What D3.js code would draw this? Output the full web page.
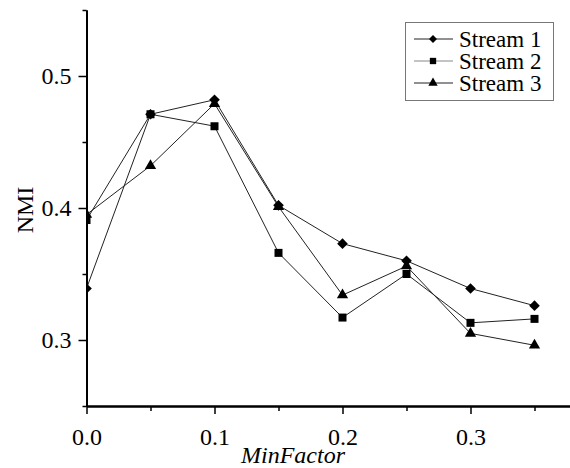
<!DOCTYPE html>
<html lang="en">
  <head>
    <meta charset="utf-8" />
    <title>NMI vs MinFactor</title>
    <script src="https://d3js.org/d3.v7.min.js"></script>
    <style>
      body { margin: 0; background: #fff; }
      svg text { font-family: "Liberation Serif", "Times New Roman", serif; }
    </style>
  </head>
  <body>
    <div id="chart"></div>
    <script>
      // values
      const minFactor = [0, 0.05, 0.1, 0.15, 0.2, 0.25, 0.3, 0.35];
      const stream1 = [0.339, 0.471, 0.482, 0.402, 0.373, 0.360, 0.339, 0.326];
      const stream2 = [0.391, 0.471, 0.462, 0.366, 0.317, 0.350, 0.313, 0.316];
      const stream3 = [0.395, 0.432, 0.479, 0.401, 0.334, 0.356, 0.305, 0.296];
      const seriesNames = ["Stream 1", "Stream 2", "Stream 3"];
      const xTicks = [0, 0.1, 0.2, 0.3];
      const xMinor = [0.05, 0.15, 0.25, 0.35];
      const yTicks = [0.3, 0.4, 0.5];
      const yMinor = [0.25, 0.35, 0.45, 0.55];

      const width = 570, height = 468;
      const padLeft = 86.5, padRight = 570, padTop = 10, padBottom = 406;

      const x = d3.scaleLinear()
        .domain([0, (padRight - padLeft) / 1280])
        .range([padLeft, padRight]);
      const y = d3.scaleLinear()
        .domain([0.25, 0.55])
        .range([padBottom, padTop]);

      const svg = d3.select("#chart").append("svg")
        .attr("width", width)
        .attr("height", height);

      svg.append("defs").append("clipPath")
        .attr("id", "plot-clip")
        .append("rect")
        .attr("x", padLeft + 1).attr("y", 0)
        .attr("width", padRight - padLeft).attr("height", padBottom);

      // markers
      const shapes = [d3.symbolDiamond2, d3.symbolSquare, d3.symbolTriangle];
      const sizes = [72, 64, 55];
      const legendSizes = [40, 40, 38];

      const series = [stream1, stream2, stream3].map((vals, i) => ({
        name: seriesNames[i],
        points: vals.map((v, j) => [minFactor[j], v]),
        shape: shapes[i]
      }));

      const line = d3.line().x(d => x(d[0])).y(d => y(d[1]));
      const plot = svg.append("g").attr("clip-path", "url(#plot-clip)");

      series.forEach((s, i) => {
        plot.append("path")
          .datum(s.points)
          .attr("d", line)
          .attr("fill", "none")
          .attr("stroke", "#222")
          .attr("stroke-width", 1);
      });
      series.forEach((s, i) => {
        plot.selectAll(".m" + i)
          .data(s.points)
          .enter()
          .append("path")
          .attr("class", "m" + i)
          .attr("transform", d => `translate(${x(d[0])},${y(d[1])})`)
          .attr("d", d3.symbol().type(s.shape).size(sizes[i]))
          .attr("fill", "#000");
      });

      // axes
      const styleAxis = (g) => {
        g.select(".domain").attr("stroke", "#000").attr("stroke-width", 2);
        g.selectAll(".tick line").attr("stroke", "#000").attr("stroke-width", 1.5);
        g.selectAll("text").attr("fill", "#000").style("font-size", "24px")
          .style("font-family", '"Liberation Serif", serif');
      };

      svg.append("g")
        .attr("transform", `translate(0,${padBottom})`)
        .call(d3.axisBottom(x).tickValues(xMinor).tickSize(5).tickSizeOuter(0).tickFormat(""))
        .call(styleAxis);
      svg.append("g")
        .attr("transform", `translate(0,${padBottom})`)
        .call(d3.axisBottom(x).tickValues(xTicks).tickSize(8).tickSizeOuter(0)
          .tickPadding(14).tickFormat(d3.format(".1f")))
        .call(styleAxis);

      svg.append("g")
        .attr("transform", `translate(${padLeft},0)`)
        .call(d3.axisLeft(y).tickValues(yMinor).tickSize(4).tickSizeOuter(0).tickFormat(""))
        .call(styleAxis);
      svg.append("g")
        .attr("transform", `translate(${padLeft},0)`)
        .call(d3.axisLeft(y).tickValues(yTicks).tickSize(8).tickSizeOuter(0)
          .tickPadding(7).tickFormat(d3.format(".1f")))
        .call(styleAxis);

      // axis titles
      svg.append("text")
        .attr("x", 293).attr("y", 463)
        .attr("text-anchor", "middle")
        .style("font-size", "24px")
        .style("font-style", "italic")
        .text("MinFactor");

      svg.append("text")
        .attr("transform", "translate(33,210) rotate(-90)")
        .attr("text-anchor", "middle")
        .style("font-size", "24px")
        .text("NMI");

      // legend
      const legend = svg.append("g");
      legend.append("rect")
        .attr("x", 405.5).attr("y", 22.5)
        .attr("width", 148).attr("height", 78)
        .attr("fill", "#fff")
        .attr("stroke", "#777")
        .attr("stroke-width", 1);

      const legendLineColor = ["#222", "#888", "#222"];
      series.forEach((s, i) => {
        const cy = 39 + i * 22;
        legend.append("line")
          .attr("x1", 414).attr("x2", 453)
          .attr("y1", cy).attr("y2", cy)
          .attr("stroke", legendLineColor[i]).attr("stroke-width", 1);
        legend.append("path")
          .attr("transform", `translate(433,${cy})`)
          .attr("d", d3.symbol().type(s.shape).size(legendSizes[i]))
          .attr("fill", "#000");
        legend.append("text")
          .attr("x", 459).attr("y", cy + 8)
          .style("font-size", "23px")
          .text(s.name);
      });
    </script>
  </body>
</html>
